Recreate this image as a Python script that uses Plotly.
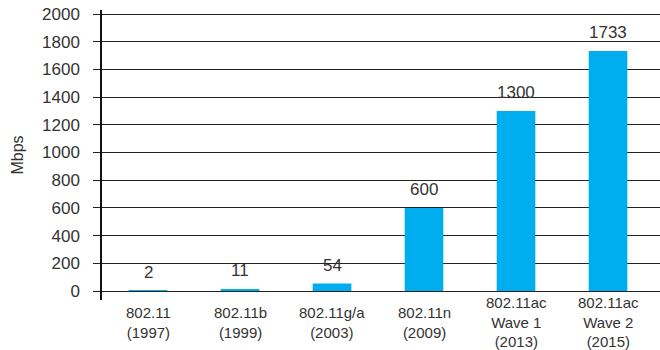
import plotly.graph_objects as go

categories = ["802.11<br>(1997)", "802.11b<br>(1999)", "802.11g/a<br>(2003)", "802.11n<br>(2009)",
              "802.11ac<br>Wave 1<br>(2013)", "802.11ac<br>Wave 2<br>(2015)"]
values = [2, 11, 54, 600, 1300, 1733]
value_labels = ["2", "11", "54", "600", "1300", "1733"]
y_ticks = [0, 200, 400, 600, 800, 1000, 1200, 1400, 1600, 1800, 2000]

FONT = "Liberation Sans, Arial, sans-serif"
TXT = "#333333"
idx = list(range(len(categories)))

fig = go.Figure(go.Bar(x=idx, y=values, marker=dict(color="#00AEEF", line=dict(width=0)),
                       hoverinfo="skip"))

ann = []
for i, (v, lab) in enumerate(zip(values, value_labels)):
    ann.append(dict(x=i, y=v, xref="x", yref="y", text=lab, showarrow=False,
                    yanchor="bottom", yshift=7, font=dict(family=FONT, size=17, color=TXT)))
for i, c in enumerate(categories):
    ann.append(dict(x=i, y=0, xref="x", yref="paper", text=c, showarrow=False,
                    yanchor="middle", yshift=-22, font=dict(family=FONT, size=15, color=TXT)))

fig.update_layout(
    width=660, height=350,
    margin=dict(l=102, r=0, t=10, b=50),
    paper_bgcolor="white", plot_bgcolor="white",
    bargap=0.58, showlegend=False,
    annotations=ann,
    xaxis=dict(range=[-0.5, 5.565], showticklabels=False, showgrid=False, zeroline=False,
               showline=False, ticks="", fixedrange=True),
    yaxis=dict(range=[-65, 2029], tickvals=y_ticks, ticktext=[str(t) for t in y_ticks],
               showgrid=True, gridcolor="#222222", gridwidth=1, zeroline=False,
               showline=True, linecolor="#111111", linewidth=1.5,
               ticks="outside", ticklen=7, tickcolor="#222222", tickwidth=1,
               ticklabelstandoff=10,
               tickfont=dict(family=FONT, size=17, color=TXT),
               title=dict(text="Mbps", font=dict(family=FONT, size=16, color=TXT), standoff=14)),
)

fig.write_html("out.html")
